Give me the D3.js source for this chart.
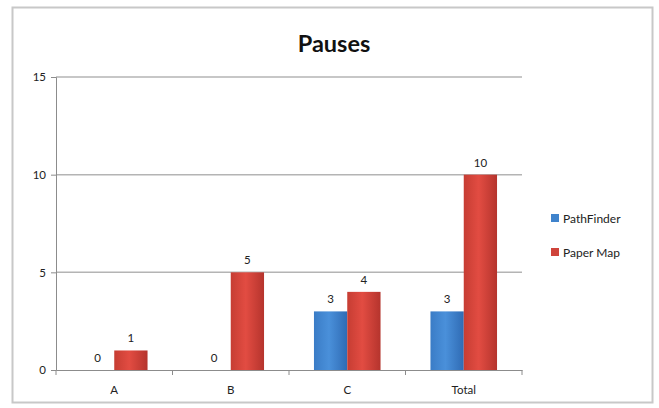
<!DOCTYPE html>
<html><head><meta charset="utf-8">
<script src="https://cdn.jsdelivr.net/npm/d3@7"></script>
<style>body{margin:0;background:#fff}svg{display:block}text{font-family:Lato,"Open Sans",sans-serif}</style>
</head><body><svg id="c" width="659" height="408"></svg>
<script>
const categories = ["A","B","C","Total"];
const seriesNames = ["PathFinder","Paper Map"];
const pathFinder = [0,0,3,3];
const paperMap = [1,5,4,10];
const yTicks = [0,5,10,15];
const title = "Pauses";

const svg = d3.select("#c");
const defs = svg.append("defs");
function grad(id, stops){
  const g = defs.append("linearGradient").attr("id",id).attr("x1","0").attr("x2","1").attr("y1","0").attr("y2","0");
  stops.forEach(([o,c])=>g.append("stop").attr("offset",o).attr("stop-color",c));
}
grad("gBlue",[[0,"#3a7cc6"],[0.45,"#4a90da"],[1,"#2f6bb4"]]);
grad("gRed",[[0,"#c63d33"],[0.45,"#e24c42"],[1,"#b5342d"]]);
const colors = ["url(#gBlue)","url(#gRed)"];
const legendColors = ["#3f83cc","#cf443b"];

svg.append("rect").attr("x",12.5).attr("y",7.5).attr("width",640).attr("height",395)
  .attr("fill","#fff").attr("stroke","#c8c8c8").attr("stroke-width",2);

const x0 = d3.scaleBand().domain(categories).range([56,522]).padding(0);
const y = d3.scaleLinear().domain([0,15]).range([370,77]);
const groupW = x0.bandwidth()/1.75;
const x1 = d3.scaleBand().domain(seriesNames).range([-groupW/2, groupW/2]).padding(0);

// gridlines
svg.append("g").selectAll("line").data(yTicks.filter(t=>t>0)).join("line")
  .attr("x1",56).attr("x2",522).attr("y1",d=>y(d)).attr("y2",d=>y(d))
  .attr("stroke","#b4b4b4").attr("stroke-width",1.5);

// y axis
const yAxis = svg.append("g").attr("transform","translate(56,0)")
  .call(d3.axisLeft(y).tickValues(yTicks).tickSize(5).tickPadding(5));
yAxis.select(".domain").attr("stroke","#8c8c8c");
yAxis.selectAll(".tick line").attr("stroke","#8c8c8c");
yAxis.selectAll("text").attr("font-size",11.5).attr("fill","#222");

// x axis
const xAxis = svg.append("g").attr("transform","translate(0,370)")
  .call(d3.axisBottom(x0).tickSize(0).tickPadding(16));
xAxis.select(".domain").attr("stroke","#8c8c8c");
xAxis.selectAll("text").attr("font-size",11.5).attr("fill","#222");
svg.append("g").selectAll("line").data(d3.range(categories.length+1)).join("line")
  .attr("x1",i=>56+i*x0.bandwidth()).attr("x2",i=>56+i*x0.bandwidth())
  .attr("y1",370).attr("y2",375).attr("stroke","#8c8c8c");

// bars
const series = [pathFinder, paperMap];
series.forEach((vals,si)=>{
  const g = svg.append("g");
  g.selectAll("rect").data(vals).join("rect")
    .attr("x",(d,i)=>x0(categories[i])+x0.bandwidth()/2+x1(seriesNames[si]))
    .attr("width",x1.bandwidth())
    .attr("y",d=>y(d)).attr("height",d=>y(0)-y(d))
    .attr("fill",colors[si]);
  g.selectAll("text").data(vals).join("text")
    .attr("x",(d,i)=>x0(categories[i])+x0.bandwidth()/2+x1(seriesNames[si])+x1.bandwidth()/2)
    .attr("y",d=>y(d)-8).attr("text-anchor","middle").attr("font-size",11.5).attr("fill","#222")
    .text(d=>d);
});

// title
svg.append("text").attr("x",334).attr("y",52).attr("text-anchor","middle")
  .attr("font-size",23.5).attr("font-weight","bold").attr("fill","#111").text(title);

// legend
const lg = svg.append("g").selectAll("g").data(seriesNames).join("g")
  .attr("transform",(d,i)=>`translate(551,${218+i*34})`);
lg.append("rect").attr("x",0).attr("y",-4).attr("width",8).attr("height",8).attr("fill",(d,i)=>legendColors[i]);
lg.append("text").attr("x",12).attr("y",4.5).attr("font-size",12).attr("fill","#222").text(d=>d);
</script></body></html>
